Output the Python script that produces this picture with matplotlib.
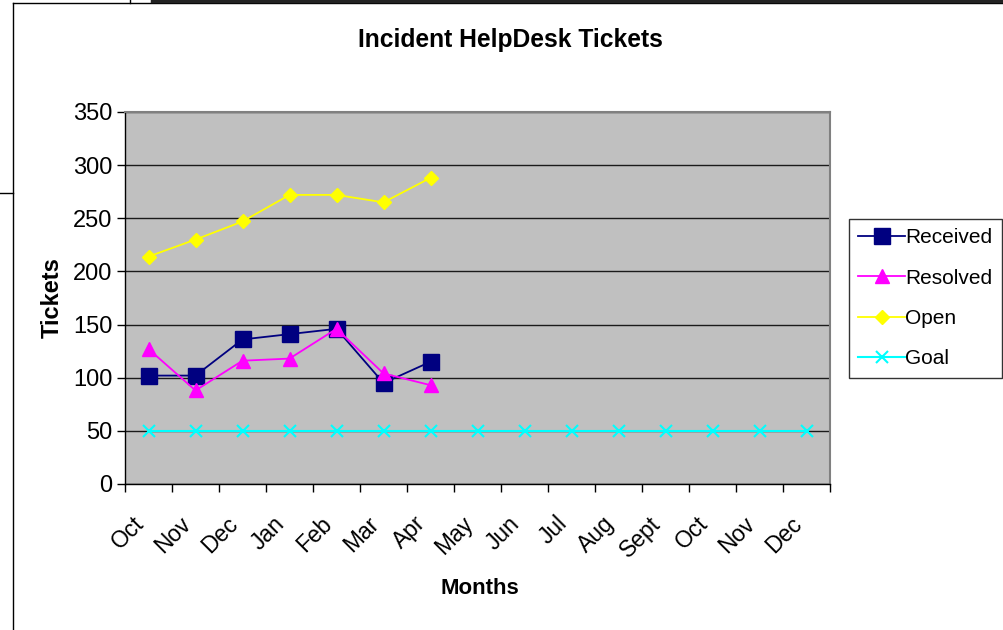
import matplotlib.pyplot as plt
import matplotlib.transforms as mtransforms
from matplotlib.lines import Line2D

plt.rcParams['font.family'] = ['Liberation Sans', 'DejaVu Sans']

months = ['Oct', 'Nov', 'Dec', 'Jan', 'Feb', 'Mar', 'Apr', 'May', 'Jun',
          'Jul', 'Aug', 'Sept', 'Oct', 'Nov', 'Dec']
received = [102, 102, 136, 141, 146, 95, 115]
resolved = [127, 88, 116, 118, 146, 104, 93]
open_tickets = [214, 230, 247, 272, 272, 265, 288]
goal = [50] * 15

W, H = 1004, 630
fig = plt.figure(figsize=(W / 100, H / 100), dpi=100)

# plot area in pixel coordinates of the reference
x0, x1, y0, y1 = 125, 830, 112, 484
ax = fig.add_axes([x0 / W, 1 - y1 / H, (x1 - x0) / W, (y1 - y0) / H])
ax.set_facecolor('#C0C0C0')

xs = [i + 0.5 for i in range(len(months))]

ax.plot(xs[:len(open_tickets)], open_tickets, color='#FFFF00', lw=1.3,
        marker='D', ms=7.5, mec='#FFFF00', mfc='#FFFF00', zorder=3, label='Open')
ax.plot(xs[:len(received)], received, color='#000080', lw=1.3,
        marker='s', ms=11.5, mec='#000080', mfc='#000080', zorder=4, label='Received')
ax.plot(xs[:len(resolved)], resolved, color='#FF00FF', lw=1.3,
        marker='^', ms=10, mec='#FF00FF', mfc='#FF00FF', zorder=5, label='Resolved')
ax.plot(xs, goal, color='#00FFFF', lw=1.5,
        marker='x', ms=9, mew=1.5, mec='#00FFFF', zorder=3, label='Goal')

ax.set_xlim(0, 15)
ax.set_ylim(0, 350)
ax.set_yticks(range(0, 351, 50))
ax.yaxis.grid(True, color='#1a1a1a', lw=1.0)
ax.set_axisbelow(True)

ax.set_xticks(range(0, 16))
ax.set_xticklabels([])
ax.set_xticks(xs, minor=True)
ax.set_xticklabels(months, minor=True, rotation=45, ha='right', va='center',
                   rotation_mode='anchor', fontsize=16.5)
ax.tick_params(axis='x', which='minor', length=0, pad=26)
ax.tick_params(axis='x', which='major', length=6, width=1, direction='out')
ax.tick_params(axis='y', length=6, width=1, direction='out', labelsize=17, pad=3)

shift = mtransforms.ScaledTranslation(-8 / 100, 0, fig.dpi_scale_trans)
for lbl in ax.get_xticklabels(minor=True):
    lbl.set_transform(lbl.get_transform() + shift)

for side in ['top', 'right']:
    ax.spines[side].set_color('#808080')
    ax.spines[side].set_linewidth(1.5)
for side in ['left', 'bottom']:
    ax.spines[side].set_color('black')
    ax.spines[side].set_linewidth(1.0)

fig.text(510 / W, 1 - 40 / H, 'Incident HelpDesk Tickets', ha='center', va='center',
         fontsize=17.7, fontweight='bold')
fig.text(480 / W, 1 - 589 / H, 'Months', ha='center', va='center',
         fontsize=16, fontweight='bold')
fig.text(52 / W, 1 - 298 / H, 'Tickets', ha='center', va='center', rotation=90,
         fontsize=17, fontweight='bold')

handles = [
    Line2D([], [], color='#000080', lw=1.3, marker='s', ms=11.5),
    Line2D([], [], color='#FF00FF', lw=1.3, marker='^', ms=10),
    Line2D([], [], color='#FFFF00', lw=1.3, marker='D', ms=7.5),
    Line2D([], [], color='#00FFFF', lw=1.5, marker='x', ms=9, mew=1.5),
]
leg = fig.legend(handles, ['Received', 'Resolved', 'Open', 'Goal'],
                 loc='upper left', bbox_to_anchor=(849 / W, 1 - 219 / H),
                 frameon=True, fancybox=False, edgecolor='black', fontsize=15,
                 handlelength=2.25, handletextpad=0.0, borderpad=0.45,
                 borderaxespad=0, labelspacing=1.02)
leg.get_frame().set_linewidth(1.0)

# surrounding sheet / chart-area lines
def fline(xa, ya, xb, yb, **kw):
    fig.add_artist(Line2D([xa / W, xb / W], [1 - ya / H, 1 - yb / H],
                          transform=fig.transFigure, **kw))

fline(13, 3, 13, 630, color='black', lw=1.0)
fline(13, 3, 1004, 3, color='black', lw=1.0)
fline(152, 0.5, 1004, 0.5, color='#222222', lw=2.5)
fline(130, 0, 130, 3, color='black', lw=1.0)
fline(0, 193, 13, 193, color='black', lw=1.0)

fig.savefig('out.png', dpi=100)
